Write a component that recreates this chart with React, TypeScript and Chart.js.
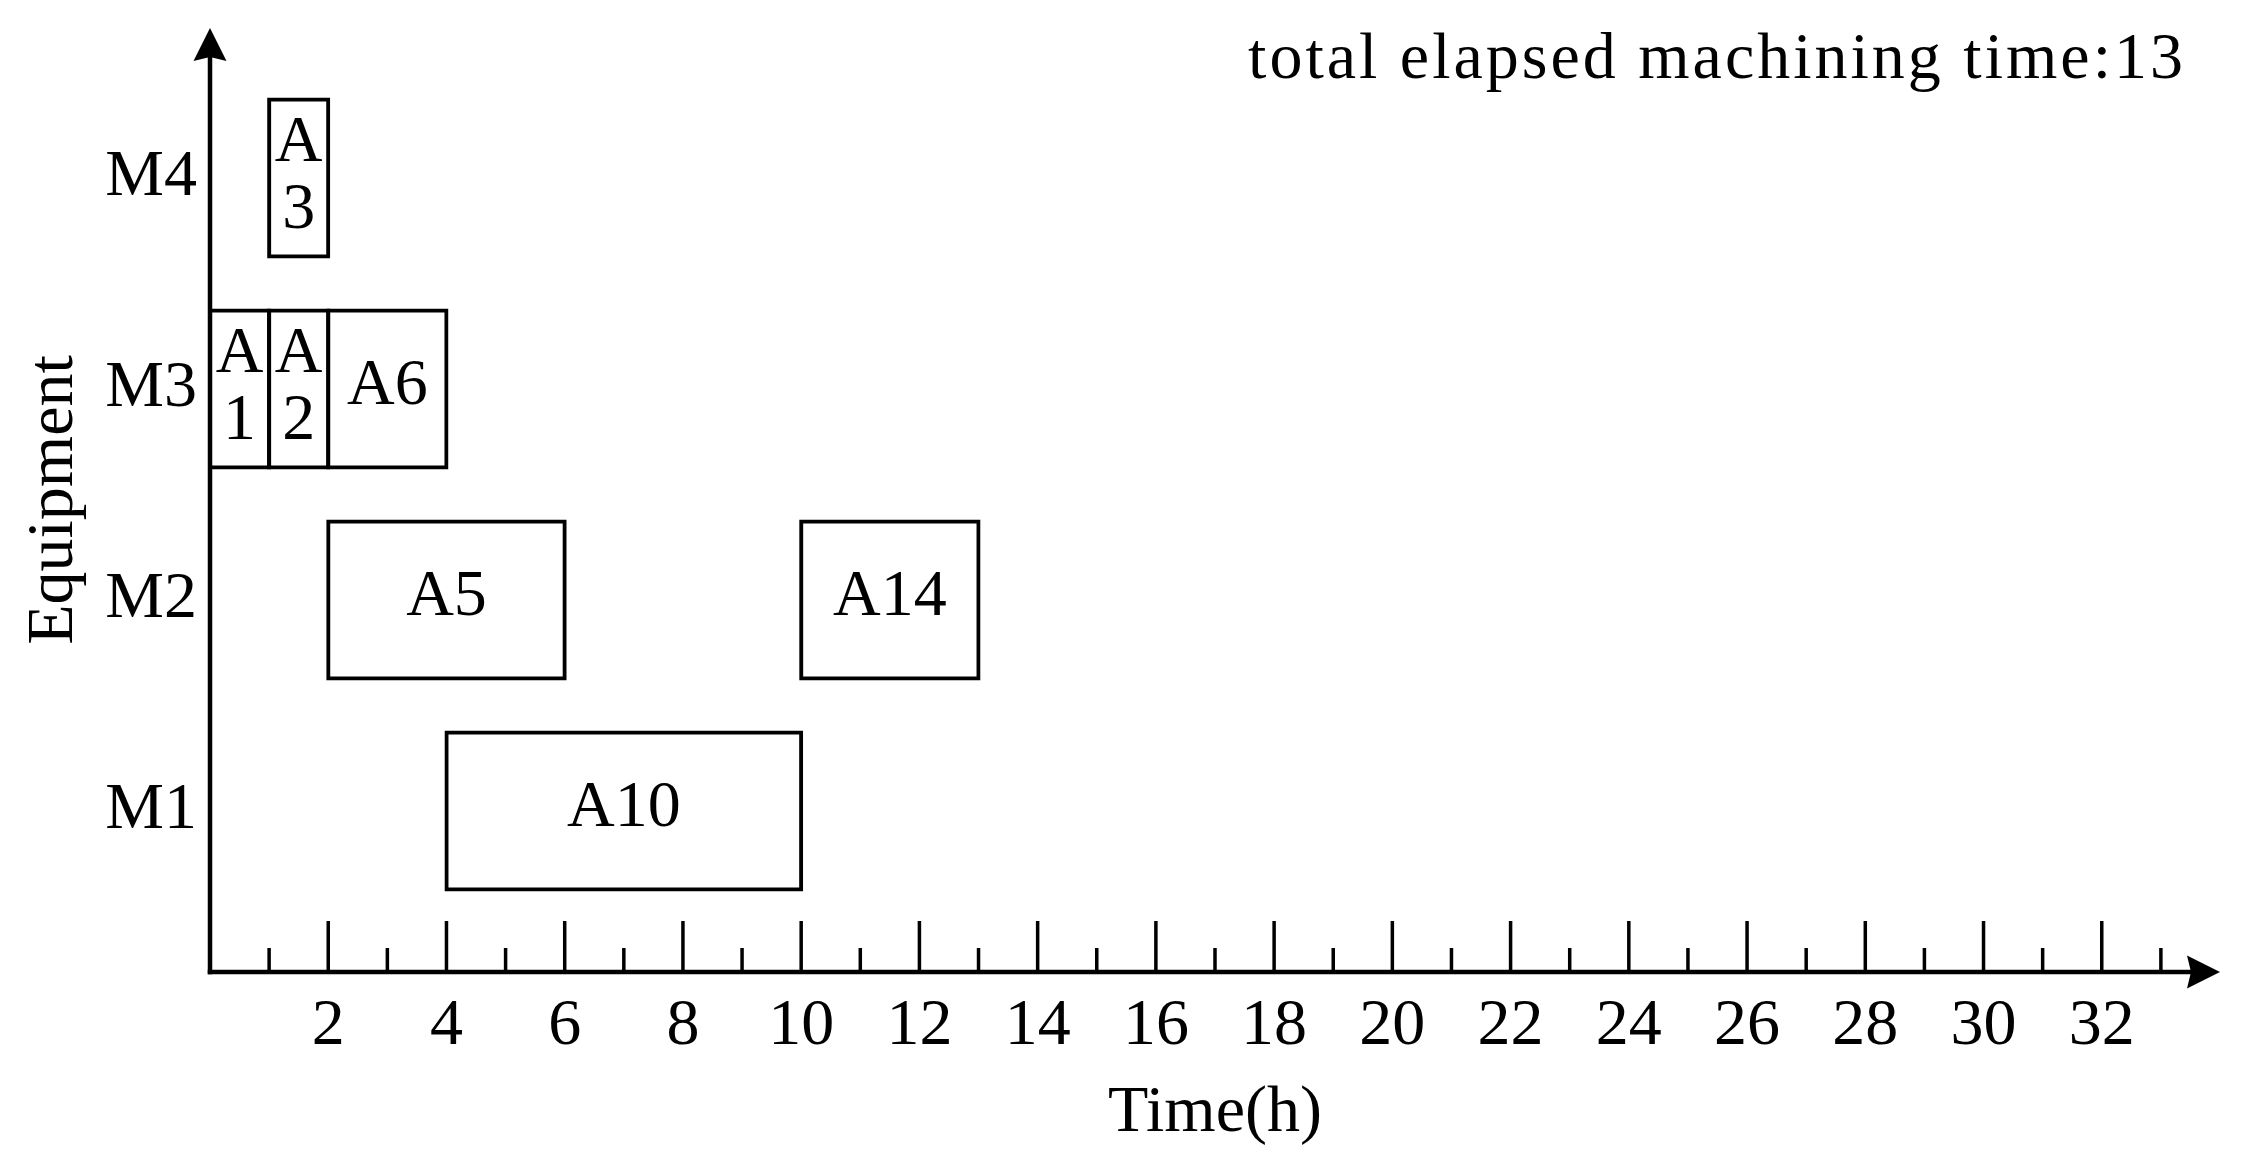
import { useEffect, useRef } from 'react';
import { Chart, registerables } from 'chart.js';

Chart.register(...registerables);

// ---- data ----
const machines = ['M1', 'M2', 'M3', 'M4'];
const jobNames = ['A1', 'A2', 'A6', 'A3', 'A5', 'A14', 'A10'];
const jobMachine = [3, 3, 3, 4, 2, 2, 1];
const jobStart = [0, 1, 2, 1, 2, 10, 4];
const jobEnd = [1, 2, 4, 2, 6, 13, 10];
const timeMajorTicks = [2, 4, 6, 8, 10, 12, 14, 16, 18, 20, 22, 24, 26, 28, 30, 32];
const timeMinorTicks = [1, 3, 5, 7, 9, 11, 13, 15, 17, 19, 21, 23, 25, 27, 29, 31, 33];
const xTitle = 'Time(h)';
const yTitle = 'Equipment';
const totalLabel = 'total elapsed machining time:13';

const FONT = "'Liberation Serif', 'Times New Roman', serif";
const FS = 66;

const overlayPlugin = {
  id: 'ganttOverlay',
  afterDatasetsDraw(chart: any) {
    const { ctx } = chart;
    const meta = chart.getDatasetMeta(0);
    ctx.save();
    ctx.fillStyle = '#000';
    ctx.font = `${FS}px ${FONT}`;
    ctx.textAlign = 'center';
    ctx.textBaseline = 'middle';
    meta.data.forEach((bar: any, i: number) => {
      const { x, y, base } = bar.getProps(['x', 'y', 'base'], true);
      const cx = (x + base) / 2;
      const w = Math.abs(x - base);
      const name = jobNames[i];
      if (ctx.measureText(name).width > w - 8) {
        ctx.fillText(name.slice(0, 1), cx, y - 34);
        ctx.fillText(name.slice(1), cx, y + 33);
      } else {
        ctx.fillText(name, cx, y - 2);
      }
    });
    ctx.restore();
  },
  afterDraw(chart: any) {
    const { ctx, chartArea } = chart;
    const xs = chart.scales.x;
    const ys = chart.scales.y;
    const axisY = ys.getPixelForValue(ys.min);
    const axisX = xs.getPixelForValue(xs.min);
    ctx.save();
    ctx.strokeStyle = '#000';
    ctx.fillStyle = '#000';
    ctx.lineCap = 'butt';
    // tick marks pointing up into the plot
    ctx.lineWidth = 3.5;
    const tick = (v: number, len: number) => {
      const px = xs.getPixelForValue(v);
      ctx.beginPath();
      ctx.moveTo(px, axisY);
      ctx.lineTo(px, axisY - len);
      ctx.stroke();
    };
    timeMajorTicks.forEach((v) => tick(v, 51));
    timeMinorTicks.forEach((v) => tick(v, 24));
    // axis lines
    ctx.lineWidth = 4.5;
    const topTip = chartArea.top;
    const rightTip = chartArea.right;
    ctx.beginPath();
    ctx.moveTo(axisX, axisY + 2.25);
    ctx.lineTo(axisX, topTip + 28);
    ctx.stroke();
    ctx.beginPath();
    ctx.moveTo(axisX - 2.25, axisY);
    ctx.lineTo(rightTip - 28, axisY);
    ctx.stroke();
    // arrow heads
    ctx.beginPath();
    ctx.moveTo(axisX, topTip);
    ctx.lineTo(axisX + 16.5, topTip + 33);
    ctx.lineTo(axisX, topTip + 29);
    ctx.lineTo(axisX - 16.5, topTip + 33);
    ctx.closePath();
    ctx.fill();
    ctx.beginPath();
    ctx.moveTo(rightTip, axisY);
    ctx.lineTo(rightTip - 33, axisY - 16.5);
    ctx.lineTo(rightTip - 29, axisY);
    ctx.lineTo(rightTip - 33, axisY + 16.5);
    ctx.closePath();
    ctx.fill();
    // total time annotation
    ctx.font = `${FS}px ${FONT}`;
    ctx.textAlign = 'right';
    ctx.textBaseline = 'alphabetic';
    try {
      (ctx as any).letterSpacing = '3px';
    } catch (e) {
      /* ignore */
    }
    ctx.fillText(totalLabel, 2186, 78);
    ctx.restore();
  },
};

export default function App() {
  const ref = useRef<HTMLCanvasElement | null>(null);
  useEffect(() => {
    document.body.style.margin = '0';
    document.documentElement.style.overflow = 'hidden';
    const canvas = ref.current;
    if (!canvas) return;
    const chart = new Chart(canvas, {
      type: 'bar',
      data: {
        datasets: [
          {
            data: jobNames.map((_, i) => ({ x: [jobStart[i], jobEnd[i]], y: jobMachine[i] })) as any,
            backgroundColor: '#fff',
            borderColor: '#000',
            borderWidth: 4,
            borderSkipped: false,
            inflateAmount: 2,
            categoryPercentage: 1,
            barPercentage: 0.745,
            clip: false as any,
          } as any,
        ],
      },
      options: {
        animation: false,
        responsive: false,
        indexAxis: 'y',
        layout: { padding: { top: 28, right: 30, left: 0, bottom: 0 } },
        plugins: {
          legend: { display: false },
          tooltip: { enabled: false },
          title: { display: false },
        },
        scales: {
          x: {
            type: 'linear',
            position: 'bottom',
            min: 0,
            max: 34,
            offset: false,
            grid: { display: false, drawTicks: false, offset: false },
            border: { display: false },
            afterBuildTicks: (s: any) => {
              s.ticks = timeMajorTicks.map((v) => ({ value: v }));
            },
            ticks: {
              color: '#000',
              font: { family: FONT, size: FS },
              padding: 15,
              maxRotation: 0,
              autoSkip: false,
              callback: (v: any) => String(v),
            },
            title: {
              display: true,
              text: xTitle,
              color: '#000',
              font: { family: FONT, size: FS },
              padding: { top: 0, bottom: 14 },
            },
            afterFit: (s: any) => {
              s.height = 195;
              s.paddingLeft = 0;
              s.paddingRight = 0;
            },
          } as any,
          y: {
            type: 'linear',
            position: 'left',
            min: 0.237,
            max: 4.711,
            offset: false,
            grid: { display: false, drawTicks: false, offset: false },
            border: { display: false },
            afterBuildTicks: (s: any) => {
              s.ticks = machines.map((_, i) => ({ value: i + 1 }));
            },
            ticks: {
              color: '#000',
              font: { family: FONT, size: FS },
              padding: 13,
              autoSkip: false,
              callback: (v: any) => machines[Math.round(v) - 1] ?? '',
            },
            title: {
              display: true,
              text: yTitle,
              color: '#000',
              font: { family: FONT, size: FS },
              padding: { top: 15, bottom: 0 },
            },
            afterFit: (s: any) => {
              s.width = 210;
              s.paddingTop = 0;
              s.paddingBottom = 0;
            },
          } as any,
        },
      },
      plugins: [overlayPlugin],
    });
    return () => chart.destroy();
  }, []);
  return <canvas ref={ref} width={2250} height={1167} style={{ display: 'block' }} />;
}
